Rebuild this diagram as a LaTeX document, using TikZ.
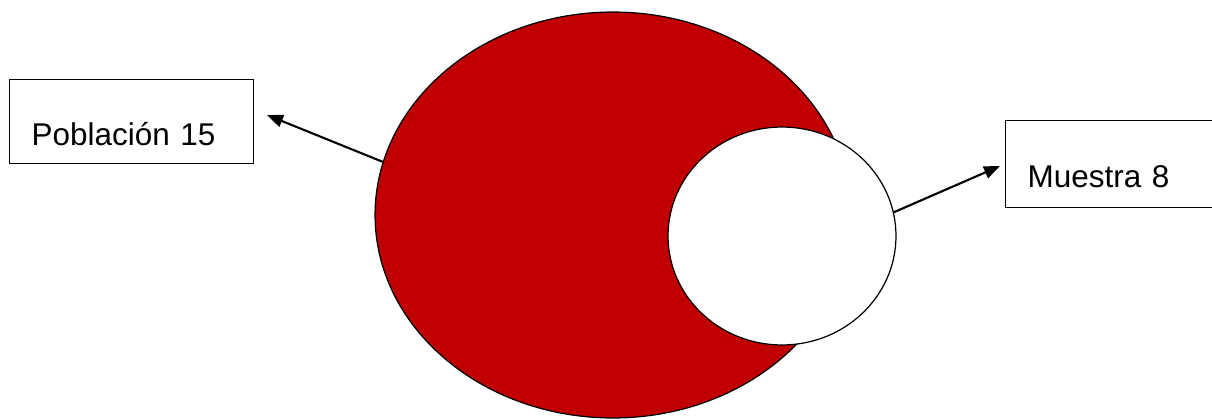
\documentclass[tikz,border=0pt]{standalone}
\usepackage{fontspec}
\setmainfont{Liberation Sans}
\usepackage{xcolor}
\usetikzlibrary{positioning,arrows.meta,shapes.geometric}
\definecolor{popred}{HTML}{C00000}
\begin{document}
\begin{tikzpicture}[
  x=0.02cm, y=-0.02cm,
  font=\fontsize{17.9}{21}\selectfont, >={Triangle[length=0.32cm, width=0.25cm]},
  lbl/.style={draw, line width=0.8pt, align=left, inner xsep=0.44cm, inner ysep=0pt, anchor=north west},
  set/.style={draw, ellipse, line width=0.7pt, inner sep=0pt},
  conn/.style={->, line width=1.2pt}]
\clip (0,0) rectangle (1212,419);
% population and sample
\node[set, fill=popred, minimum width=9.52cm, minimum height=8.12cm] (pob) at (613,215) {};
\node[set, fill=white, minimum width=4.56cm, minimum height=4.36cm] (mue) at (782,236) {};
% labels
\node[lbl, text width=4cm, text height=1.32cm, text depth=0.36cm] (pobla) at (9,79) {Población 15};
\node[lbl, text width=4cm, text height=1.34cm, text depth=0.40cm] (muela) at (1005,120) {Muestra 8};
\coordinate (pobtip) at (267,115);
\coordinate (muetip) at (1000,166);
% arrows
\draw[conn] (pob.167.8) -- (pobtip);
\draw[conn] (mue.12.7) -- (muetip);
\end{tikzpicture}
\end{document}
